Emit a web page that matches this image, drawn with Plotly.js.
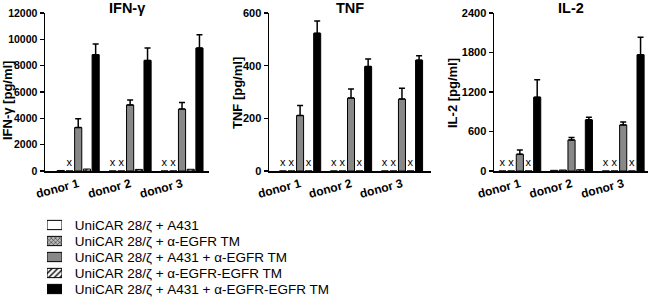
<!DOCTYPE html>
<html>
<head>
<meta charset="utf-8">
<script src="https://cdn.plot.ly/plotly-3.0.1.min.js"></script>
<style>html,body{margin:0;padding:0;background:#fff;}#chart{width:650px;height:297px;}</style>
</head>
<body>
<div id="chart"></div>
<script>
// ---- data (null = not detected, drawn as "x") ----
const categories = ['donor 1', 'donor 2', 'donor 3'];
const conditions = [
  'UniCAR 28/ζ + A431',
  'UniCAR 28/ζ + α-EGFR TM',
  'UniCAR 28/ζ + A431 + α-EGFR TM',
  'UniCAR 28/ζ + α-EGFR-EGFR TM',
  'UniCAR 28/ζ + A431 + α-EGFR-EGFR TM'
];
const panelTitles = ['IFN-γ', 'TNF', 'IL-2'];
const yTitles = ['IFN-γ [pg/ml]', 'TNF [pg/ml]', 'IL-2 [pg/ml]'];

// IFN-gamma
const ifnA431 = [40, null, null];
const ifnTM = [null, null, null];
const ifnA431TM = [3300, 5020, 4700];
const ifnA431TMerr = [660, 380, 500];
const ifnEE = [150, 120, 130];
const ifnA431EE = [8830, 8400, 9340];
const ifnA431EEerr = [810, 940, 1010];

// TNF
const tnfA431 = [null, null, null];
const tnfTM = [null, null, null];
const tnfA431TM = [211, 277, 273];
const tnfA431TMerr = [38, 34, 41];
const tnfEE = [null, null, null];
const tnfA431EE = [523, 397, 421];
const tnfA431EEerr = [47, 28, 17];

// IL-2
const il2A431 = [null, 10, null];
const il2TM = [null, 15, null];
const il2A431TM = [254, 472, 700];
const il2A431TMerr = [66, 36, 46];
const il2EE = [null, 20, null];
const il2A431EE = [1121, 777, 1766];
const il2A431EEerr = [265, 40, 264];

const yTicks = [
  [0, 2000, 4000, 6000, 8000, 10000, 12000],
  [0, 200, 400, 600],
  [0, 600, 1200, 1800, 2400]
];

// ---- styles ----
const FONT = 'Liberation Sans, Arial, sans-serif';
const markers = [
  {color: '#ffffff', line: {color: '#000', width: 1}},
  {color: '#a0a0a0', line: {color: '#000', width: 1}, pattern: {shape: 'x', bgcolor: '#b8b8b8', fgcolor: '#444', size: 3, solidity: 0.4}},
  {color: '#888888', line: {color: '#000', width: 1}},
  {color: '#ffffff', line: {color: '#000', width: 1}, pattern: {shape: '/', bgcolor: '#ffffff', fgcolor: '#000', size: 4, solidity: 0.35}},
  {color: '#000000', line: {color: '#000', width: 1}}
];

const panels = [
  {vals: [ifnA431, ifnTM, ifnA431TM, ifnEE, ifnA431EE], errs: [null, null, ifnA431TMerr, null, ifnA431EEerr]},
  {vals: [tnfA431, tnfTM, tnfA431TM, tnfEE, tnfA431EE], errs: [null, null, tnfA431TMerr, null, tnfA431EEerr]},
  {vals: [il2A431, il2TM, il2A431TM, il2EE, il2A431EE], errs: [null, null, il2A431TMerr, null, il2A431EEerr]}
];

const traces = [];
panels.forEach((p, pi) => {
  const ax = pi === 0 ? '' : String(pi + 1);
  p.vals.forEach((vals, ci) => {
    const t = {
      type: 'bar',
      name: conditions[ci],
      showlegend: false,
      x: categories,
      y: vals.map(v => v === null ? 0 : v),
      text: vals.map(v => v === null ? 'x' : ''),
      textposition: 'outside',
      constraintext: 'none',
      cliponaxis: false,
      textfont: {family: FONT, size: 11, color: '#000'},
      marker: markers[ci],
      xaxis: 'x' + ax,
      yaxis: 'y' + ax,
      hoverinfo: 'skip'
    };
    if (p.errs[ci]) {
      t.error_y = {type: 'data', symmetric: false, array: p.errs[ci], arrayminus: p.errs[ci].map(() => 0),
                   color: '#000', thickness: 1.5, width: 3};
    }
    traces.push(t);
  });
});

// legend drawn as a small subplot: one swatch bar per condition, labels as tick text
conditions.forEach((c, ci) => {
  traces.push({
    type: 'bar', orientation: 'h', name: c, showlegend: false,
    y: [c], x: [1], offsetgroup: 'legend', width: 0.58,
    marker: markers[ci], xaxis: 'x4', yaxis: 'y4', hoverinfo: 'skip'
  });
});

const W = 650, H = 297;
const xDom = [[45, 209], [269, 431], [494, 648]];
const xRanges = [[-0.64, 2.52], [-0.61, 2.57], [-0.5, 2.48]];
const yRanges = [[0, 12000], [0, 600], [0, 2400]];
const yTickSize = [10.5, 11, 11];
const yDom = [1 - 171 / H, 1 - 13 / H];

const layout = {
  width: W, height: H,
  margin: {l: 0, r: 0, t: 0, b: 0},
  paper_bgcolor: '#fff', plot_bgcolor: '#fff',
  barmode: 'group', bargap: 0.16, bargroupgap: 0.18,
  font: {family: FONT, color: '#000'},
  showlegend: false,
  annotations: []
};

for (let i = 0; i < 3; i++) {
  const ax = i === 0 ? '' : String(i + 1);
  layout['xaxis' + ax] = {
    domain: [xDom[i][0] / W, xDom[i][1] / W], anchor: 'y' + ax,
    type: 'category', range: xRanges[i], automargin: false,
    showline: true, linecolor: '#000', linewidth: 1.5, ticks: '',
    tickangle: -15, tickfont: {family: FONT, size: 12, weight: 'bold', color: '#000'},
    showgrid: false, zeroline: false, fixedrange: true
  };
  layout['yaxis' + ax] = {
    domain: yDom, anchor: 'x' + ax, range: yRanges[i], automargin: false,
    tickvals: yTicks[i], ticktext: yTicks[i].map(String),
    showline: true, linecolor: '#000', linewidth: 1.5,
    ticks: 'outside', ticklen: 4, tickwidth: 1.5, tickcolor: '#000',
    tickfont: {family: FONT, size: yTickSize[i], weight: 'bold', color: '#000'},
    showgrid: false, zeroline: false, fixedrange: true
  };
  const cx = (xDom[i][0] + xDom[i][1]) / 2 / W;
  layout.annotations.push({
    text: panelTitles[i], xref: 'paper', yref: 'paper', x: cx, y: 1 - 8 / H,
    xanchor: 'center', yanchor: 'middle', showarrow: false,
    font: {family: FONT, size: 14.5, weight: 'bold', color: '#000'}
  });
}
const yTitlePos = [[7, 101], [237, 93], [452, 93]];
yTitlePos.forEach((p, i) => {
  layout.annotations.push({
    text: yTitles[i], xref: 'paper', yref: 'paper', x: p[0] / W, y: 1 - p[1] / H,
    xanchor: 'center', yanchor: 'middle', textangle: -90, showarrow: false,
    font: {family: FONT, size: 13, weight: 'bold', color: '#000'}
  });
});

// legend subplot
layout.xaxis4 = {domain: [47 / W, 62 / W], anchor: 'y4', range: [0, 1], visible: false, fixedrange: true, automargin: false};
layout.yaxis4 = {
  domain: [1 - 297 / H, 1 - 217 / H], anchor: 'x4', type: 'category', autorange: 'reversed',
  side: 'right', showline: false, showgrid: false, zeroline: false, automargin: false,
  ticks: 'outside', ticklen: 9, tickcolor: 'rgba(0,0,0,0)',
  tickfont: {family: FONT, size: 13.5, color: '#000'}, fixedrange: true
};

Plotly.newPlot('chart', traces, layout, {displayModeBar: false, staticPlot: true});
</script>
</body>
</html>
